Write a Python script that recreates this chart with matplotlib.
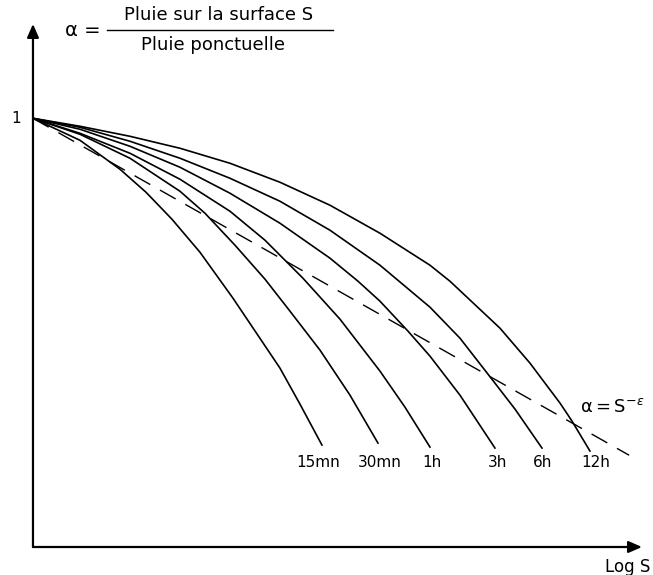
import numpy as np
import matplotlib.pyplot as plt

# Courbes alpha = f(Log S) pour chaque durée de pluie
durees = ["15mn", "30mn", "1h", "3h", "6h", "12h"]
x_15mn = [0, 0.772, 1.429, 1.856, 2.282, 2.742, 3.284, 4.056, 4.384, 4.745]
y_15mn = [1, 0.9487, 0.8811, 0.8275, 0.7646, 0.6876, 0.5804, 0.4172, 0.3333, 0.2378]
x_30mn = [0, 0.772, 1.593, 2.414, 2.824, 3.317, 3.810, 4.220, 4.713, 5.205, 5.665]
y_30mn = [1, 0.9627, 0.9068, 0.8298, 0.7786, 0.7040, 0.6247, 0.5501, 0.4592, 0.3543, 0.2424]
x_1h = [0, 0.772, 1.593, 2.414, 3.235, 3.810, 4.433, 5.041, 5.698, 6.108, 6.519]
y_1h = [1, 0.9650, 0.9184, 0.8578, 0.7832, 0.7156, 0.6270, 0.5315, 0.4103, 0.3263, 0.2331]
x_3h = [0, 0.772, 1.593, 2.414, 3.235, 4.056, 4.877, 5.337, 5.698, 6.158, 6.519, 7.011, 7.586]
y_3h = [1, 0.9744, 0.9347, 0.8858, 0.8252, 0.7552, 0.6737, 0.6200, 0.5734, 0.5035, 0.4452, 0.3543, 0.2308]
x_6h = [0, 0.772, 1.593, 2.414, 3.235, 4.056, 4.877, 5.698, 6.519, 7.011, 7.471, 7.915, 8.358]
y_6h = [1, 0.9790, 0.9464, 0.9068, 0.8601, 0.8065, 0.7389, 0.6573, 0.5594, 0.4872, 0.4033, 0.3217, 0.2308]
x_12h = [0, 0.772, 1.593, 2.414, 3.235, 4.056, 4.877, 5.698, 6.519, 6.847, 7.668, 8.161, 8.654, 8.851, 9.146]
y_12h = [1, 0.9814, 0.9580, 0.9301, 0.8951, 0.8508, 0.7972, 0.7319, 0.6573, 0.6200, 0.5105, 0.4289, 0.3357, 0.2937, 0.2238]

# droite alpha = S^-epsilon
x_droite = [0, 9.79]
y_droite = [1, 0.214]

# position des étiquettes sous les courbes
x_etiq = [4.68, 5.70, 6.55, 7.62, 8.37, 9.24]
y_etiq = 0.198

courbes = [(x_15mn, y_15mn), (x_30mn, y_30mn), (x_1h, y_1h),
           (x_3h, y_3h), (x_6h, y_6h), (x_12h, y_12h)]

fig = plt.figure(figsize=(6.53, 5.75), dpi=100)
ax = fig.add_axes([0.0505, 0.0487, 0.9326, 0.9096])
ax.set_xlim(0, 10)
ax.set_ylim(0, 1.22)
for s in ax.spines.values():
    s.set_visible(False)
ax.set_xticks([])
ax.set_yticks([])

# axes avec flèches
fleche = dict(arrowstyle="-|>,head_length=0.8,head_width=0.35", color="black",
              lw=1.6, shrinkA=0, shrinkB=0)
ax.annotate("", xy=(1, 0), xytext=(0, 0), xycoords="axes fraction", arrowprops=fleche)
ax.annotate("", xy=(0, 1), xytext=(0, 0), xycoords="axes fraction", arrowprops=fleche)

for xs, ys in courbes:
    ax.plot(xs, ys, color="black", lw=1.2, solid_joinstyle="round", clip_on=False)

ax.plot(x_droite, y_droite, color="black", lw=1.0, linestyle=(0, (13, 8)), clip_on=False)

for lab, xe in zip(durees, x_etiq):
    ax.text(xe, y_etiq, lab, ha="center", va="center", fontsize=11)

ax.text(-0.2, 1, "1", ha="right", va="center", fontsize=11)
ax.text(9.77, -0.047, "Log S", ha="center", va="center", fontsize=12, clip_on=False)
ax.text(8.98, 0.326, r"$\mathrm{α = S}^{-ε}$", ha="left", va="center",
        fontsize=13, math_fontfamily="dejavusans")

# titre : alpha = pluie sur la surface S / pluie ponctuelle
ax.text(0.82, 1.205, "α =", ha="center", va="center", fontsize=14, clip_on=False)
ax.text(3.05, 1.240, "Pluie sur la surface S", ha="center", va="center", fontsize=13, clip_on=False)
ax.plot([1.22, 4.93], [1.205, 1.205], color="black", lw=1.0, clip_on=False)
ax.text(2.95, 1.170, "Pluie ponctuelle", ha="center", va="center", fontsize=13, clip_on=False)

plt.savefig("out.png", dpi=100)
